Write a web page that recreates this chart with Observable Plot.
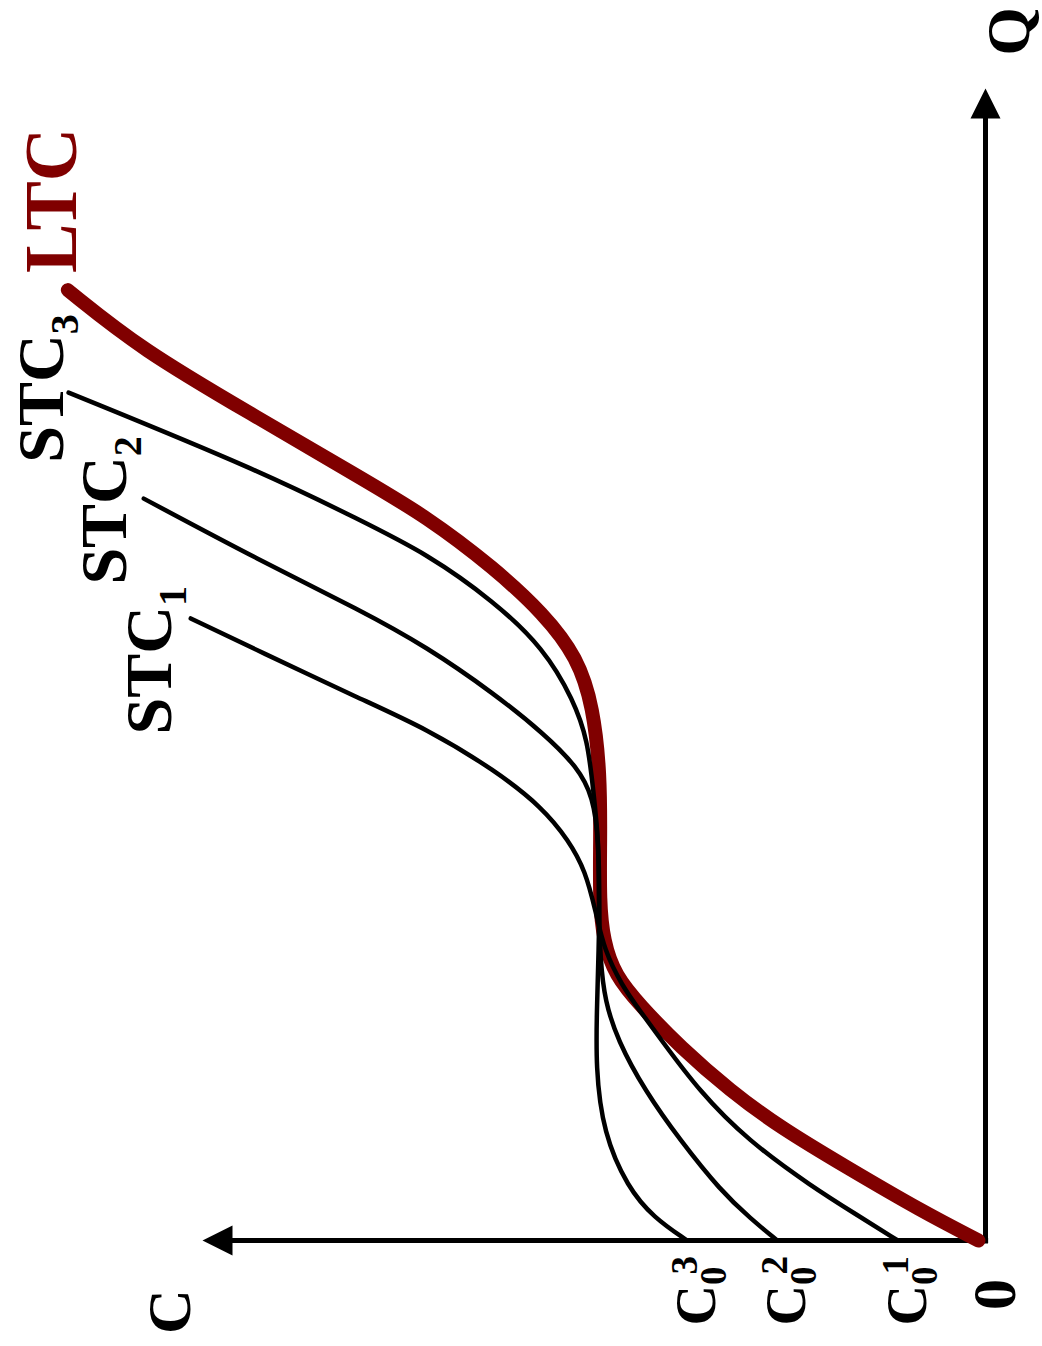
<!DOCTYPE html>
<html><head><meta charset="utf-8">
<script src="https://cdn.jsdelivr.net/npm/d3@7"></script>
<script src="https://cdn.jsdelivr.net/npm/@observablehq/plot@0.6"></script>
<style>html,body{margin:0;padding:0;background:#fff} svg{display:block}</style>
</head><body><div id="chart"></div>
<script>
// Long-run total cost (LTC) and three short-run total cost curves (STC)
// C = cost (axis drawn horizontally, growing leftwards), Q = quantity (vertical)
const ltcQ = [0, 2.6, 6.3, 9.8, 13.0, 16.8, 20.4, 23.0, 26.0, 29.5, 34.7, 40.5, 46.3, 50.6, 54.4, 58.4, 62.8, 66.2, 71.8, 77.3, 82.5];
const ltcC = [0.9, 8.3, 17.6, 26.2, 32.6, 39.0, 44.1, 47.3, 48.8, 49.3, 49.2, 49.2, 50.1, 52.1, 56.4, 62.8, 71.3, 79.8, 93.9, 107.7, 117.2];

const stc1Q = [0, 2.3, 4.6, 8.7, 13.0, 17.4, 20.0, 22.1, 25.2, 28.6, 32.1, 34.7, 37.6, 40.8, 44.4, 47.0, 51.1, 54.0];
const stc1C = [11.2, 16.6, 22.0, 30.4, 36.6, 41.4, 44.2, 46.4, 48.7, 49.8, 51.1, 53.2, 56.6, 62.6, 71.3, 79.8, 92.6, 101.5];

const stc2Q = [0, 1.9, 4.3, 8.7, 13.0, 17.4, 20.8, 24.3, 29.5, 34.7, 38.5, 41.1, 44.0, 47.5, 51.5, 54.7, 59.0, 64.4];
const stc2C = [26.6, 30.0, 33.8, 39.0, 43.5, 47.0, 48.6, 49.2, 49.4, 49.4, 50.1, 52.1, 56.4, 62.8, 71.3, 79.8, 92.6, 107.5];

const stc3Q = [0, 2.0, 4.6, 9.3, 15.0, 20.8, 25.2, 29.5, 34.7, 39.1, 43.4, 46.9, 51.4, 55.5, 59.6, 62.5, 66.8, 73.6];
const stc3C = [38.1, 42.4, 45.7, 48.8, 49.8, 49.6, 49.4, 49.3, 49.4, 50.1, 50.8, 52.6, 56.4, 62.8, 71.3, 79.8, 92.6, 117.1];

// fixed costs (intercepts of the STC curves on the C axis) and their tick labels
const fixedCosts = [11.2, 26.6, 38.1];
const fixedCostLabels = ["C_0^1", "C_0^2", "C_0^3"];

const axisMax = 100;
const axisLabels = ["Q", "C", "0"];

// ---------------------------------------------------------------
const toRows = (name, C, Q) => C.map((c, i) => ({curve: name, C: c, Q: Q[i]})).reverse();
const ltcRows = toRows("LTC", ltcC, ltcQ);
const stcRows = [
  ...toRows("STC_1", stc1C, stc1Q),
  ...toRows("STC_2", stc2C, stc2Q),
  ...toRows("STC_3", stc3C, stc3Q)
];
const endOf = name => [(name === "LTC" ? ltcRows : stcRows.filter(d => d.curve === name))[0]];

const arrowUp = {draw(ctx, size) {const r = Math.sqrt(size / Math.PI); ctx.moveTo(0, 0); ctx.lineTo(r / 2, r); ctx.lineTo(-r / 2, r); ctx.closePath();}};
const arrowLeft = {draw(ctx, size) {const r = Math.sqrt(size / Math.PI); ctx.moveTo(0, 0); ctx.lineTo(r, -r / 2); ctx.lineTo(r, r / 2); ctx.closePath();}};

const font = {fontFamily: "'Liberation Serif', 'Times New Roman', serif", fontWeight: "bold", rotate: -90};

const curveLabel = (name, dx, dy, fill = "black", fontSize = 66) =>
  Plot.text(endOf(name), {x: "C", y: "Q", text: d => d.curve, textAnchor: "start", fontSize, fill, dx, dy, ...font});

const chart = Plot.plot({
  width: 1042,
  height: 1346,
  margin: 0,
  x: {domain: [0, axisMax], range: [985, 202], axis: null},
  y: {domain: [0, axisMax], range: [1240, 88], axis: null},
  style: {background: "white", overflow: "visible"},
  marks: [
    // axes
    Plot.ruleX([0], {y1: -0.3, y2: axisMax - 2, stroke: "black", strokeWidth: 5}),
    Plot.ruleY([0], {x1: -0.4, x2: axisMax - 2, stroke: "black", strokeWidth: 5}),
    Plot.dot([{C: 0, Q: axisMax}], {x: "C", y: "Q", symbol: arrowUp, r: 30, fill: "black", stroke: "none"}),
    Plot.dot([{C: axisMax, Q: 0}], {x: "C", y: "Q", symbol: arrowLeft, r: 30, fill: "black", stroke: "none"}),
    // curves
    Plot.line(ltcRows, {x: "C", y: "Q", stroke: "#800000", strokeWidth: 14, strokeLinecap: "round", strokeLinejoin: "round", curve: "basis"}),
    Plot.line(stcRows, {x: "C", y: "Q", z: "curve", stroke: "black", strokeWidth: 4.5, curve: "basis"}),
    // curve labels
    curveLabel("STC_1", -41, 116),
    curveLabel("STC_2", -39, 86),
    curveLabel("STC_3", -27, 70),
    curveLabel("LTC", -16, -17, "#800000", 74),
    // axis names and origin
    Plot.text([{C: 0, Q: axisMax, t: axisLabels[0]}], {x: "C", y: "Q", text: "t", fontSize: 62, dx: 24, dy: -57, ...font}),
    Plot.text([{C: axisMax, Q: 0, t: axisLabels[1]}], {x: "C", y: "Q", text: "t", fontSize: 62, dx: -32, dy: 71, ...font}),
    Plot.text([{C: 0, Q: 0, t: axisLabels[2]}], {x: "C", y: "Q", text: "t", fontSize: 62, dx: 10, dy: 54, ...font}),
    // fixed cost tick labels
    Plot.text(fixedCosts.map((c, i) => ({C: c, Q: 0, t: fixedCostLabels[i]})), {x: "C", y: "Q", text: "t", textAnchor: "start", fontSize: 56, dx: 10, dy: 85, ...font})
  ]
});

// turn "X_a^b" into real subscript / superscript tspans
d3.select(chart).selectAll("text").each(function() {
  const m = /^([^_^]+)(?:_([^_^]+))?(?:\^([^_^]+))?$/.exec(this.textContent);
  if (!m || (!m[2] && !m[3])) return;
  const isTick = m[1] === "C";
  const subSize = isTick ? 37 : 40, subDy = isTick ? 11 : 15, supDy = -18;
  const el = d3.select(this);
  el.text(null);
  el.append("tspan").text(m[1]);
  if (m[2]) el.append("tspan").attr("font-size", subSize).attr("dy", subDy).text(m[2]);
  if (m[3]) el.append("tspan").attr("font-size", subSize).attr("dx", -8).attr("dy", supDy - (m[2] ? subDy : 0)).text(m[3]);
});

document.getElementById("chart").append(chart);
</script>
</body></html>
